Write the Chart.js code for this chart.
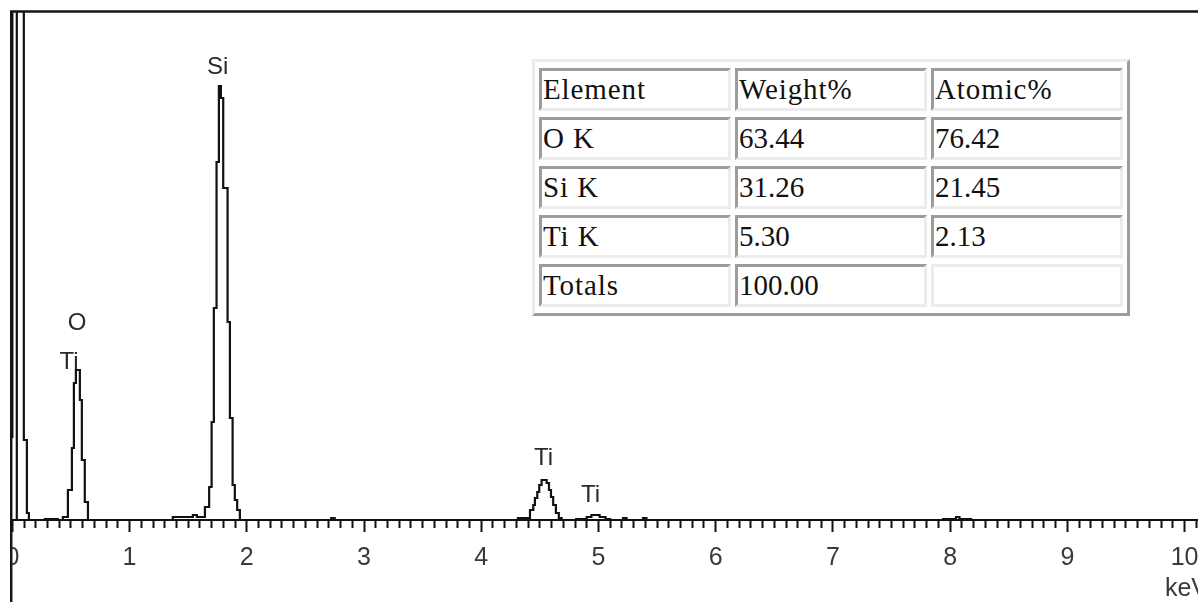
<!DOCTYPE html>
<html>
<head>
<meta charset="utf-8">
<title>EDS spectrum</title>
<script src="https://cdn.jsdelivr.net/npm/chart.js@4.4.1/dist/chart.umd.min.js"></script>
<style>
  html, body { margin: 0; padding: 0; background: #fff; overflow: hidden; width: 1198px; height: 602px; }
  #plot { position: absolute; left: 10px; top: 0; }
  #quant {
    position: absolute; left: 532px; top: 59px;
    border-collapse: separate; border-spacing: 4px 6px;
    border: 3px solid; border-color: #ececec #9c9c9c #9c9c9c #ececec;
    background: #fff;
    font-family: "Liberation Serif", "Times New Roman", serif; font-size: 29px; color: #111;
    letter-spacing: 0.9px;
  }
  #quant td {
    box-sizing: border-box; width: 192px; height: 43px;
    padding: 0 1px; line-height: 1; vertical-align: middle;
    border: 3px solid; border-color: #9c9c9c #ececec #ececec #9c9c9c;
    white-space: nowrap;
  }
  #quant td.num { letter-spacing: 0; }
  #quant td.empty { border-color: #ececec; }
</style>
</head>
<body>
<canvas id="plot" width="1198" height="602"></canvas>
<table id="quant"></table>
<script>
// Spectrum trace: left edge of each step (keV) and the count level held from there.
const energyKeV = [
  -0.02, 0.000, 0.038, 0.038, 0.098, 0.124, 0.141,
  0.277, 0.388, 0.431, 0.474, 0.508, 0.525, 0.542, 0.576, 0.593, 0.618, 0.645,
  1.369, 1.540, 1.574, 1.643, 1.679, 1.700, 1.719, 1.742, 1.762, 1.779, 1.799, 1.836, 1.856, 1.879, 1.898, 1.918, 1.941,
  2.720, 2.750,
  4.313, 4.416, 4.444, 4.458, 4.478, 4.495, 4.515, 4.558, 4.578, 4.595, 4.614, 4.637, 4.662, 4.686,
  4.810, 4.900, 4.940, 5.010, 5.060, 5.100,
  5.210, 5.240, 5.380, 5.410,
  7.940, 8.050, 8.080, 8.180,
  10.20
];
const counts = [
  83, 3000, 0, 3000, 80, 7, 0,
  1, 0, 3, 30, 72, 137, 150, 120, 60, 18, 0,
  3, 5, 3, 13, 33, 98, 212, 358, 434, 422, 332, 198, 102, 35, 20, 10, 0,
  2, 0,
  2, 10, 15, 22, 28, 35, 40, 37, 30, 23, 15, 7, 2, 0,
  1, 3, 5, 3, 1, 0,
  2, 0, 2, 0,
  1, 3, 1, 0,
  0
];

// Axis range
const energyMin = -0.02;
const energyMax = 10.2;
const countsMax = 508;
const minorStepKeV = 0.1;

// Peak identifications
const peakLabelText = ['Si', 'O', 'Ti', 'Ti', 'Ti'];
const peakLabelKeV = [1.751, 0.552, 0.483, 4.532, 4.933];
const peakLabelCounts = [453, 197, 158, 62, 25];

// Quantification table
const tableHeader = ['Element', 'Weight%', 'Atomic%'];
const tableElements = ['O K', 'Si K', 'Ti K'];
const tableWeight = ['63.44', '31.26', '5.30'];
const tableAtomic = ['76.42', '21.45', '2.13'];
const totalsRow = ['Totals', '100.00', ''];

// Build the quantification table
(function buildTable() {
  const table = document.getElementById('quant');
  const rows = [tableHeader];
  tableElements.forEach((el, i) => rows.push([el, tableWeight[i], tableAtomic[i]]));
  rows.push(totalsRow);
  rows.forEach(r => {
    const tr = document.createElement('tr');
    r.forEach(txt => {
      const td = document.createElement('td');
      td.textContent = txt;
      if (txt === '') td.className = 'empty';
      else if (/^[0-9.]+$/.test(txt)) td.className = 'num';
      tr.appendChild(td);
    });
    table.appendChild(tr);
  });
})();

const isMajor = v => Math.abs(v - Math.round(v)) < 1e-6;
const sansFont = '"Liberation Sans", Arial, sans-serif';

// Plot frame: top rule and the full-height left rule
const framePlugin = {
  id: 'frame',
  afterDraw(chart) {
    const { ctx, chartArea } = chart;
    ctx.save();
    ctx.strokeStyle = '#151515';
    ctx.lineWidth = 2.5;
    ctx.beginPath();
    ctx.moveTo(0, chartArea.top - 0.5);
    ctx.lineTo(chart.width, chartArea.top - 0.5);
    ctx.moveTo(1.2, chartArea.top - 1);
    ctx.lineTo(1.2, chart.height);
    ctx.stroke();
    ctx.restore();
  }
};

// Element labels above the peaks
const peakLabelPlugin = {
  id: 'peakLabels',
  afterDatasetsDraw(chart) {
    const { ctx, scales } = chart;
    ctx.save();
    ctx.font = '24px ' + sansFont;
    ctx.fillStyle = '#2a2a2a';
    ctx.textAlign = 'center';
    ctx.textBaseline = 'middle';
    peakLabelText.forEach((t, i) => {
      ctx.fillText(t, scales.x.getPixelForValue(peakLabelKeV[i]), scales.y.getPixelForValue(peakLabelCounts[i]));
    });
    ctx.restore();
  }
};

new Chart(document.getElementById('plot'), {
  type: 'line',
  data: {
    datasets: [{
      data: energyKeV.map((e, i) => ({ x: e, y: counts[i] })),
      borderColor: '#111',
      borderWidth: 2.2,
      pointRadius: 0,
      stepped: true,
      fill: false
    }]
  },
  options: {
    responsive: false,
    animation: false,
    events: [],
    layout: { padding: { top: 12, left: 0, right: 0, bottom: 0 } },
    plugins: { legend: { display: false }, tooltip: { enabled: false } },
    scales: {
      x: {
        type: 'linear',
        min: energyMin,
        max: energyMax,
        afterFit(s) { s.height = 82; s.paddingLeft = 0; s.paddingRight = 0; },
        border: { display: true, color: '#111', width: 2 },
        grid: {
          drawOnChartArea: false,
          drawTicks: true,
          tickLength: 12,
          tickColor: '#111',
          tickWidth: 2,
          tickBorderDash: c => (c.tick && !isMajor(c.tick.value)) ? [7, 40] : []
        },
        ticks: {
          stepSize: minorStepKeV,
          maxTicksLimit: 300,
          autoSkip: false,
          includeBounds: false,
          maxRotation: 0,
          padding: 11,
          color: '#3a3a3a',
          font: { family: sansFont, size: 25 },
          callback: v => isMajor(v) ? String(Math.round(v)) : ''
        },
        title: {
          display: true,
          text: 'keV',
          align: 'end',
          color: '#3a3a3a',
          font: { family: sansFont, size: 25, lineHeight: 1 },
          padding: 0
        }
      },
      y: { display: false, min: 0, max: countsMax }
    }
  },
  plugins: [framePlugin, peakLabelPlugin]
});
</script>
</body>
</html>
